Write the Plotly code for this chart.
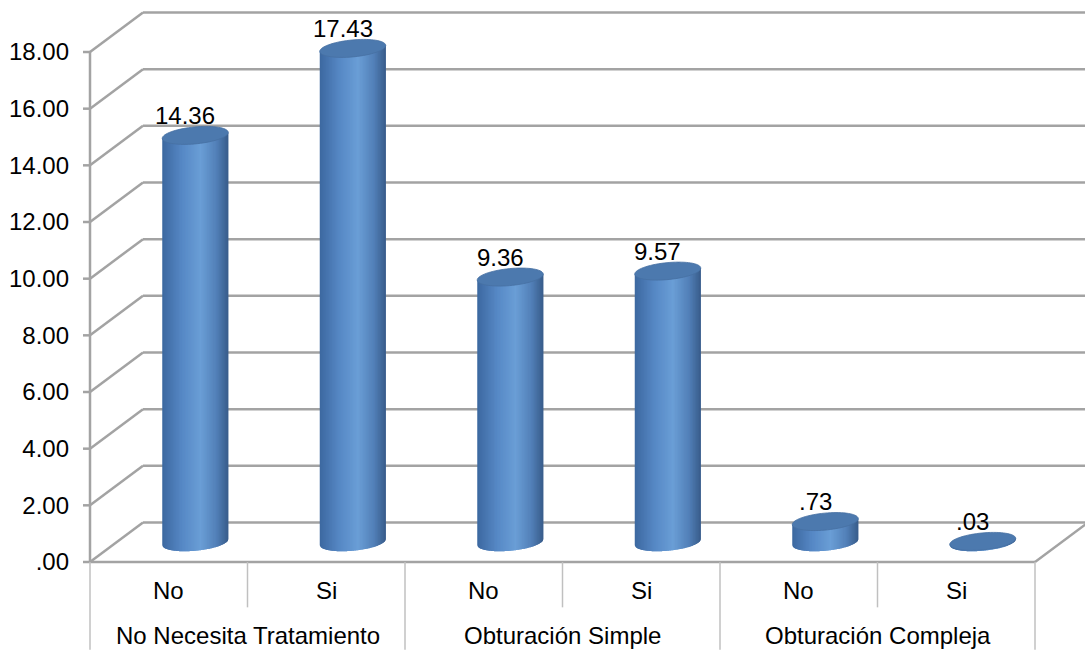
import numpy as np
import plotly.graph_objects as go

# ---- data -------------------------------------------------------------
groups = ["No Necesita Tratamiento", "Obturación Simple", "Obturación Compleja"]
answers = ["No", "Si", "No", "Si", "No", "Si"]
values = [14.36, 17.43, 9.36, 9.57, 0.73, 0.03]
y_ticks = [0, 2, 4, 6, 8, 10, 12, 14, 16, 18]
y_tick_text = [".00", "2.00", "4.00", "6.00", "8.00", "10.00", "12.00", "14.00", "16.00", "18.00"]

# ---- scene geometry (data units) ---------------------------------------
W, H = 1085, 656
PX_CAT = 157.5          # pixels per category
PX_VAL = 28.333         # pixels per value unit
X_LEFT_PX, Y_ZERO_PX = 90, 562
x_range = [(0 - X_LEFT_PX) / PX_CAT - 0.5, (W - X_LEFT_PX) / PX_CAT - 0.5]
y_range = [(Y_ZERO_PX - H) / PX_VAL, Y_ZERO_PX / PX_VAL]

n = len(values)
x_lo, x_hi = -0.5, n - 0.5
DX = 53 / PX_CAT        # depth shift of the back wall (x)
DY = 39.5 / PX_VAL      # depth shift of the back wall (y)
ROW1 = -1.6             # bottom of the answer row
ROW2 = -3.1             # bottom of the group row

GRID = "#a3a3a3"
TABLE = "#c0c0c0"
FONT = dict(family="Liberation Sans, Arial, sans-serif", size=24, color="#000000")

shapes = []


def seg(x0, y0, x1, y1, color, width):
    shapes.append(dict(type="line", xref="x", yref="y", x0=x0, y0=y0, x1=x1, y1=y1,
                       line=dict(color=color, width=width), layer="below"))


# back wall gridlines and the diagonals to the front axis
for t in y_ticks:
    seg(x_lo, t, x_lo + DX, t + DY, GRID, 2.5)
    seg(x_lo + DX, t + DY, x_range[1] + 0.2, t + DY, GRID, 2.5)
    seg(x_lo - 7 / PX_CAT, t, x_lo, t, GRID, 2.5)

# floor edges
seg(x_lo, 0, x_hi, 0, GRID, 2.5)
seg(x_hi, 0, x_hi + DX, DY, GRID, 2.5)
# front vertical axis
seg(x_lo, 0, x_lo, y_ticks[-1], GRID, 2.5)

# category table lines
seg(x_lo, 0, x_lo, ROW2, TABLE, 1.5)
for i in range(1, n + 1):
    xb = i - 0.5
    seg(xb, 0, xb, ROW2 if i % 2 == 0 else ROW1, TABLE, 1.5)

# ---- cylinders ------------------------------------------------------------
RX = 33 / PX_CAT
RY = 8.5 / PX_VAL
SHEAR = 0.09 * (RX * PX_CAT) / PX_VAL   # tilt of the ellipses (value units per unit u)

stops = np.array([0.0, 0.3, 0.58, 0.82, 1.0])
cols = np.array([
    [60, 104, 160],
    [86, 136, 197],
    [106, 158, 214],
    [82, 128, 184],
    [56, 92, 138],
])


def shade(f):
    return "rgb(%d,%d,%d)" % tuple(int(round(np.interp(f, stops, cols[:, k]))) for k in range(3))


def path_of(xs, ys):
    return "M " + " L ".join("%.5f,%.5f" % (a, b) for a, b in zip(xs, ys)) + " Z"


NSTRIP = 44
edges = np.linspace(-1, 1, NSTRIP + 1)
for i, v in enumerate(values):
    cx = i + DX / 2
    base = DY / 2
    top = v + DY / 2
    for j in range(NSTRIP):
        # each strip reaches into its right neighbour so no seams show
        u0, u1 = edges[j], edges[min(j + 2, NSTRIP)]
        us = np.linspace(u0, u1, 5)
        xb = cx + RX * us
        yb = base - RY * np.sqrt(np.clip(1 - us ** 2, 0, 1)) + SHEAR * us
        yt = top + SHEAR * us
        xs = np.concatenate([xb, xb[::-1]])
        ys = np.concatenate([yb, yt[::-1]])
        c = shade((edges[j] + edges[j + 1] + 2) / 4)
        shapes.append(dict(type="path", xref="x", yref="y", path=path_of(xs, ys),
                           fillcolor=c, line=dict(width=0), layer="above"))
    th = np.linspace(0, 2 * np.pi, 72)
    ex = cx + RX * np.cos(th)
    ey = top + RY * np.sin(th) + SHEAR * np.cos(th)
    shapes.append(dict(type="path", xref="x", yref="y", path=path_of(ex, ey),
                       fillcolor="rgb(76,121,174)", line=dict(color="rgb(70,112,162)", width=0.8),
                       layer="above"))

# ---- texts -------------------------------------------------------------------
annotations = []


def fmt(v):
    s = "%.2f" % v
    return s[1:] if s.startswith("0") else s


for i, v in enumerate(values):
    annotations.append(dict(x=i + DX / 2, y=v + DY / 2, xref="x", yref="y", text=fmt(v),
                            showarrow=False, xanchor="center", yanchor="bottom",
                            xshift=-10, yshift=RY * PX_VAL - 4, font=FONT))
for i, a in enumerate(answers):
    annotations.append(dict(x=i, y=-0.99, xref="x", yref="y", text=a, showarrow=False,
                            xanchor="center", yanchor="middle", font=FONT))
for g, name in enumerate(groups):
    annotations.append(dict(x=2 * g + 0.5, y=-2.6, xref="x", yref="y", text=name,
                            showarrow=False, xanchor="center", yanchor="middle", font=FONT))

fig = go.Figure()
fig.add_trace(go.Scatter(x=[None], y=[None], hoverinfo="skip", showlegend=False))
fig.update_layout(
    width=W, height=H,
    margin=dict(l=0, r=0, t=0, b=0),
    paper_bgcolor="white", plot_bgcolor="white",
    showlegend=False,
    shapes=shapes,
    annotations=annotations,
    xaxis=dict(range=x_range, visible=False, fixedrange=True),
    yaxis=dict(range=y_range, showgrid=False, zeroline=False, showline=False,
               tickvals=y_ticks, ticktext=y_tick_text, ticks="",
               anchor="free", position=(X_LEFT_PX - 7) / W, side="left",
               ticklabelstandoff=14, tickfont=FONT, fixedrange=True),
)
fig.write_html("out.html")
